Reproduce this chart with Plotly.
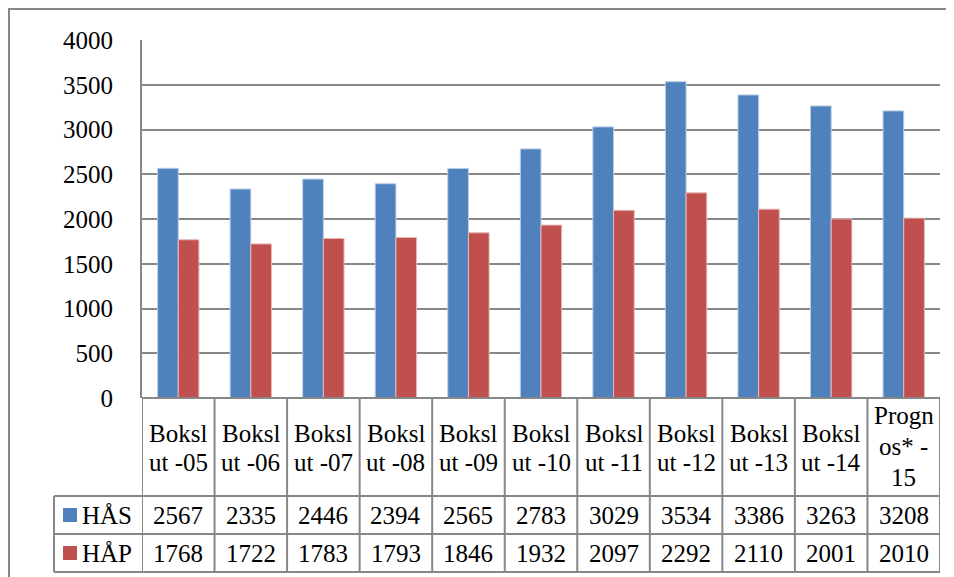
import plotly.graph_objects as go

categories = ["Boksl ut -05", "Boksl ut -06", "Boksl ut -07", "Boksl ut -08", "Boksl ut -09",
              "Boksl ut -10", "Boksl ut -11", "Boksl ut -12", "Boksl ut -13", "Boksl ut -14",
              "Prognos* -15"]
header_lines = [["Boksl", "ut -05"], ["Boksl", "ut -06"], ["Boksl", "ut -07"], ["Boksl", "ut -08"],
                ["Boksl", "ut -09"], ["Boksl", "ut -10"], ["Boksl", "ut -11"], ["Boksl", "ut -12"],
                ["Boksl", "ut -13"], ["Boksl", "ut -14"], ["Progn", "os* -", "15"]]
has_values = [2567, 2335, 2446, 2394, 2565, 2783, 3029, 3534, 3386, 3263, 3208]
hap_values = [1768, 1722, 1783, 1793, 1846, 1932, 2097, 2292, 2110, 2001, 2010]
series_names = ["HÅS", "HÅP"]
y_ticks = [0, 500, 1000, 1500, 2000, 2500, 3000, 3500, 4000]

BLUE = "#4F81BD"
RED = "#C0504D"
GRID = "#878787"
FONT = "Liberation Serif"
FS = 25

OFF = 8  # page body margin
W, H = 954 - OFF, 577 - OFF
L, R, T, B = 142 - OFF, 940 - OFF, 40 - OFF, 398 - OFF


def px(xp):
    return (xp - OFF - L) / (R - L)


def py(yp):
    return (B - (yp - OFF)) / (B - T)


def tf():
    return dict(family=FONT, size=FS, color="black")


xs = list(range(len(categories)))

fig = go.Figure()
fig.add_trace(go.Bar(x=xs, y=has_values, name=series_names[0], marker_color=BLUE,
                     marker_line=dict(color="#B9CDE5", width=1)))
fig.add_trace(go.Bar(x=xs, y=hap_values, name=series_names[1], marker_color=RED,
                     marker_line=dict(color="#E6B9B8", width=1)))

shapes = []
line = dict(color=GRID, width=2)
# outer chart border
shapes.append(dict(type="rect", xref="paper", yref="paper", x0=px(9), x1=px(980),
                   y0=py(600), y1=py(9), line=dict(color=GRID, width=2), layer="below"))
# data table lines
shapes.append(dict(type="line", xref="paper", yref="paper", x0=0, x1=1, y0=0, y1=0, line=line))
for yy in [496, 534, 572]:
    shapes.append(dict(type="line", xref="paper", yref="paper", x0=px(54), x1=1,
                       y0=py(yy), y1=py(yy), line=line))
for i in range(len(categories) + 1):
    shapes.append(dict(type="line", xref="x", yref="paper", x0=i - 0.5, x1=i - 0.5,
                       y0=py(572), y1=0, line=line))
shapes.append(dict(type="line", xref="paper", yref="paper", x0=px(54), x1=px(54),
                   y0=py(572), y1=py(496), line=line))
# legend keys
for yy, col in [(515, BLUE), (553, RED)]:
    shapes.append(dict(type="rect", xref="paper", yref="paper", x0=px(63), x1=px(77),
                       y0=py(yy + 7), y1=py(yy - 7), fillcolor=col, line=dict(width=0)))

annotations = []
for i, lines in enumerate(header_lines):
    ys = [433, 462] if len(lines) == 2 else [415, 447, 477]
    for txt, yy in zip(lines, ys):
        annotations.append(dict(x=i, y=py(yy), xref="x", yref="paper", text=txt,
                                showarrow=False, font=tf(), xanchor="center", yanchor="middle"))
for i in xs:
    annotations.append(dict(x=i, y=py(515), xref="x", yref="paper", text=str(has_values[i]),
                            showarrow=False, font=tf(), xanchor="center", yanchor="middle"))
    annotations.append(dict(x=i, y=py(553), xref="x", yref="paper", text=str(hap_values[i]),
                            showarrow=False, font=tf(), xanchor="center", yanchor="middle"))
for name, yy in zip(series_names, [515, 553]):
    annotations.append(dict(x=px(80), y=py(yy), xref="paper", yref="paper", text=name,
                            showarrow=False, font=tf(), xanchor="left", yanchor="middle"))

fig.update_layout(
    width=W, height=H,
    margin=dict(l=L, r=W - R, t=T, b=H - B, pad=0),
    paper_bgcolor="white", plot_bgcolor="white",
    barmode="group", bargap=0.43, bargroupgap=0,
    showlegend=False,
    font=tf(),
    xaxis=dict(range=[-0.5, len(categories) - 0.5], showticklabels=False, showgrid=False,
               zeroline=False, showline=False, ticks="", fixedrange=True),
    yaxis=dict(range=[0, 4000], tickvals=y_ticks, showgrid=True, gridcolor=GRID, gridwidth=2,
               zeroline=False, showline=True, linecolor=GRID, linewidth=2, ticks="",
               ticklabelstandoff=22, tickfont=tf(), fixedrange=True),
    shapes=shapes,
    annotations=annotations,
)

fig.write_html("out.html")
